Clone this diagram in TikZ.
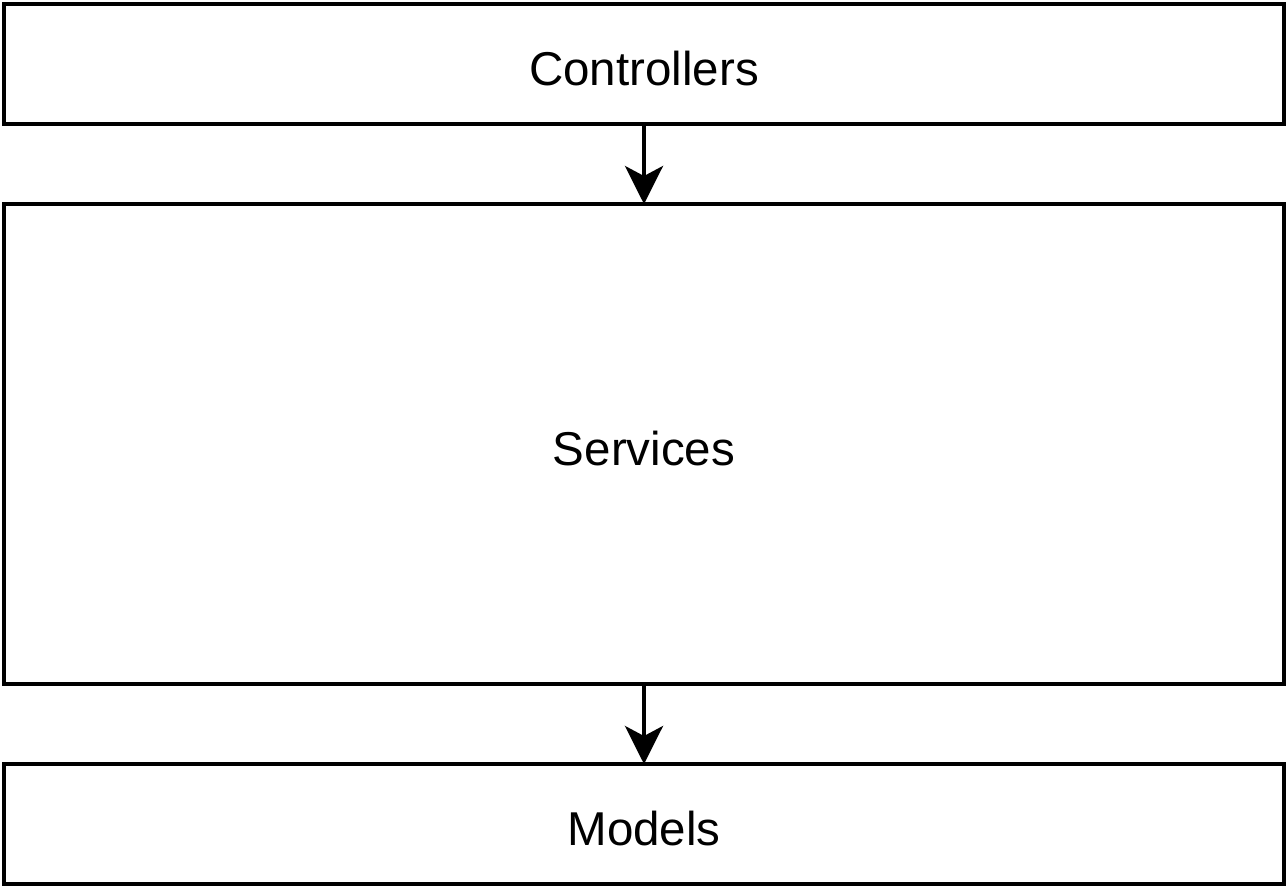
\documentclass[tikz,border=0pt]{standalone}
\usepackage{fontspec}
\setmainfont{Liberation Sans}
\usetikzlibrary{arrows.meta,positioning}

\tikzset{
  layer/.style={draw,line width=4pt,minimum width=1280pt,inner sep=0pt,outer sep=0pt,
    text height=42pt,text depth=0pt,font=\fontsize{47.5}{56}\selectfont},
  flow/.style={line width=4pt,-{Stealth[length=38pt,width=38pt,inset=10pt]}}
}

\begin{document}
\begin{tikzpicture}[x=1pt,y=-1pt]
  \useasboundingbox (0,0) rectangle (1288,887);
  % the three layers
  \node[layer,minimum height=120pt] (ctrl) at (644,64) {Controllers};
  \node[layer,minimum height=480pt] (serv) at (644,444) {Services};
  \node[layer,minimum height=120pt] (mdl) at (644,824) {Models};
  % calls between them
  \draw[flow] (ctrl.south) -- (serv.north);
  \draw[flow] (serv.south) -- (mdl.north);
\end{tikzpicture}
\end{document}
